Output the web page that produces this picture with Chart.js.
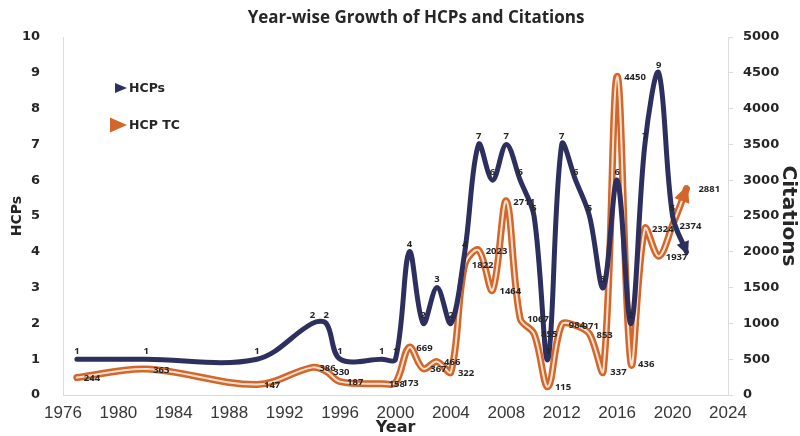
<!DOCTYPE html>
<html>
<head>
<meta charset="utf-8">
<script src="https://cdn.jsdelivr.net/npm/chart.js@4/dist/chart.umd.min.js"></script>
<style>
  html, body { margin: 0; padding: 0; background: #ffffff; }
  #wrap { width: 800px; height: 436px; }
</style>
</head>
<body>
<div id="wrap"><canvas id="chart" width="800" height="436"></canvas></div>
<script>
// Publication years with at least one highly cited paper (HCP)
const years = [1977, 1982, 1990, 1994, 1995, 1996, 1999, 2000, 2001, 2002, 2003, 2004, 2005, 2006, 2007,
               2008, 2009, 2010, 2011, 2012, 2013, 2014, 2015, 2016, 2017, 2018, 2019, 2020, 2021];
// Number of HCPs per year
const hcps = [1, 1, 1, 2, 2, 1, 1, 1, 4, 2, 3, 2, 4, 7, 6,
              7, 6, 5, 1, 7, 6, 5, 3, 6, 2, 7, 9, 5, 4];
// Total citations of the HCPs per year
const citations = [244, 363, 147, 386, 330, 187, 158, 173, 669, 367, 466, 322, 1822, 2023, 1464,
                   2711, 1067, 855, 115, 984, 971, 853, 337, 4450, 436, 2324, 1937, 2374, 2881];

// Axis tick labels
const yearTicks = [1976, 1980, 1984, 1988, 1992, 1996, 2000, 2004, 2008, 2012, 2016, 2020, 2024];
const hcpTicks = [0, 1, 2, 3, 4, 5, 6, 7, 8, 9, 10];
const citationTicks = [0, 500, 1000, 1500, 2000, 2500, 3000, 3500, 4000, 4500, 5000];

const TITLE = 'Year-wise Growth of HCPs and Citations';

const NAVY = '#2d2f5f';
const ORANGE = '#d3662b';
const STRIPE = '#fbe2cf';
const TEXT = '#262626';
const AXIS_LINE = '#dcdcdc';

const toPoints = vals => years.map((yr, i) => ({ x: yr, y: vals[i] }));

// Triangle arrow head at the end of a line, following the incoming tangent
function arrowHead(ctx, p, prev, len, half, color) {
  let dx = p.x - (p.cp1x ?? prev.x);
  let dy = p.y - (p.cp1y ?? prev.y);
  if (Math.hypot(dx, dy) < 0.5) { dx = p.x - prev.x; dy = p.y - prev.y; }
  const d = Math.hypot(dx, dy) || 1;
  const ux = dx / d, uy = dy / d;
  const tipX = p.x + ux * 4, tipY = p.y + uy * 4;
  const bx = tipX - ux * len, by = tipY - uy * len;
  ctx.beginPath();
  ctx.moveTo(tipX, tipY);
  ctx.lineTo(bx - uy * half, by + ux * half);
  ctx.lineTo(bx + uy * half, by - ux * half);
  ctx.closePath();
  ctx.fillStyle = color;
  ctx.fill();
}

const decorations = {
  id: 'decorations',
  afterDatasetsDraw(chart) {
    const ctx = chart.ctx;
    const hMeta = chart.getDatasetMeta(0);
    const cMeta = chart.getDatasetMeta(2);
    ctx.save();

    // arrow heads on the series ends
    const cn = cMeta.data.length;
    arrowHead(ctx, cMeta.data[cn - 1], cMeta.data[cn - 2], 17, 8, ORANGE);
    const hn = hMeta.data.length;
    arrowHead(ctx, hMeta.data[hn - 1], hMeta.data[hn - 2], 14, 6.5, NAVY);

    // value labels
    ctx.font = "bold 9.5px 'Open Sans'";
    ctx.fillStyle = TEXT;
    ctx.textAlign = 'center';
    ctx.textBaseline = 'middle';
    hMeta.data.forEach((p, i) => {
      if (i === hn - 1) return;
      ctx.fillText(String(hcps[i]), p.x, p.y - 8);
    });
    ctx.textAlign = 'left';
    cMeta.data.forEach((p, i) => {
      const dx = i === cn - 1 ? 12 : 7;
      ctx.fillText(String(citations[i]), p.x + dx, p.y + 1);
    });

    // legend inside the plot
    const items = [
      { text: 'HCPs', color: NAVY, x: 115, y: 88, w: 12, h: 10 },
      { text: 'HCP TC', color: ORANGE, x: 110, y: 125, w: 17, h: 15 }
    ];
    ctx.font = "bold 12.5px 'DejaVu Sans'";
    items.forEach(it => {
      ctx.beginPath();
      ctx.moveTo(it.x, it.y - it.h / 2);
      ctx.lineTo(it.x + it.w, it.y);
      ctx.lineTo(it.x, it.y + it.h / 2);
      ctx.closePath();
      ctx.fillStyle = it.color;
      ctx.fill();
      ctx.fillStyle = TEXT;
      ctx.fillText(it.text, 129, it.y + 1);
    });

    // chart title
    ctx.font = "bold 17px 'Open Sans'";
    ctx.textAlign = 'center';
    ctx.fillStyle = TEXT;
    ctx.fillText(TITLE, 416, 18);
    ctx.restore();
  }
};

const line = {
  fill: false,
  pointRadius: 0,
  pointHoverRadius: 0,
  tension: 0.35,
  borderCapStyle: 'round',
  borderJoinStyle: 'round'
};

new Chart(document.getElementById('chart'), {
  type: 'line',
  data: {
    datasets: [
      { ...line, label: 'HCPs', data: toPoints(hcps), borderColor: NAVY, borderWidth: 5, yAxisID: 'y' },
      { ...line, label: 'HCP TC', data: toPoints(citations), borderColor: STRIPE, borderWidth: 2, yAxisID: 'y1' },
      { ...line, label: 'HCP TC', data: toPoints(citations), borderColor: ORANGE, borderWidth: 7, yAxisID: 'y1' }
    ]
  },
  options: {
    responsive: false,
    animation: false,
    devicePixelRatio: 1,
    layout: { padding: { top: 37, left: 0, right: 0, bottom: 0 } },
    plugins: {
      legend: { display: false },
      tooltip: { enabled: false },
      title: { display: false }
    },
    scales: {
      x: {
        type: 'linear',
        min: yearTicks[0],
        max: yearTicks[yearTicks.length - 1],
        afterBuildTicks: s => { s.ticks = yearTicks.map(v => ({ value: v })); },
        afterFit: s => { s.height = 41; },
        grid: { display: false },
        border: { display: true, color: AXIS_LINE, width: 1 },
        ticks: {
          padding: 1,
          maxRotation: 0,
          autoSkip: false,
          color: '#383838',
          font: { family: "'Liberation Sans'", size: 17, lineHeight: 1.1 },
          callback: v => String(v)
        },
        title: {
          display: true, text: 'Year', color: TEXT,
          font: { family: "'DejaVu Sans'", size: 16, weight: 'bold', lineHeight: 1 },
          padding: 0
        }
      },
      y: {
        position: 'left',
        min: 0, max: hcpTicks[hcpTicks.length - 1],
        afterBuildTicks: s => { s.ticks = hcpTicks.map(v => ({ value: v })); },
        afterFit: s => { s.width = 63; },
        grid: { display: false },
        border: { display: true, color: AXIS_LINE, width: 1 },
        ticks: {
          padding: 15, color: TEXT,
          font: { family: "'DejaVu Sans'", size: 13, weight: 'bold' },
          callback: v => String(v)
        },
        title: {
          display: true, text: 'HCPs', color: TEXT,
          font: { family: "'DejaVu Sans'", size: 14, weight: 'bold', lineHeight: 1.2 },
          padding: { top: 9, bottom: 0 }
        }
      },
      y1: {
        position: 'right',
        min: 0, max: citationTicks[citationTicks.length - 1],
        afterBuildTicks: s => { s.ticks = citationTicks.map(v => ({ value: v })); },
        afterFit: s => { s.width = 72; },
        grid: { display: true, drawOnChartArea: false, drawTicks: true, tickLength: 5, color: AXIS_LINE },
        border: { display: true, color: AXIS_LINE, width: 1 },
        ticks: {
          padding: 10, color: TEXT,
          font: { family: "'DejaVu Sans'", size: 13, weight: 'bold' },
          callback: v => String(v)
        },
        title: {
          display: true, text: 'Citations', color: TEXT,
          font: { family: "'DejaVu Sans'", size: 20, weight: 'bold', lineHeight: 1.2 },
          padding: { top: 0, bottom: 0 }
        }
      }
    }
  },
  plugins: [decorations]
});
</script>
</body>
</html>
